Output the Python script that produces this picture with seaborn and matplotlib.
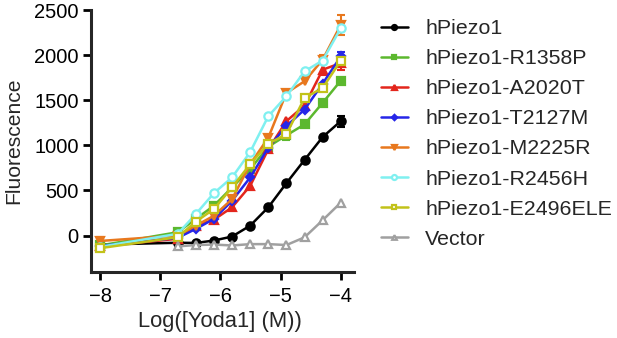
import numpy as np
import pandas as pd
import matplotlib
matplotlib.use("Agg")
import matplotlib.pyplot as plt
import seaborn as sns

sns.set_style("ticks")
plt.rcParams['font.family'] = ['Liberation Sans', 'DejaVu Sans']
plt.rcParams['font.size'] = 14.5

# log10 Yoda1 concentration (2-fold dilutions from 100 uM, plus baseline at -8)
log_conc = [-8, -6.709, -6.408, -6.107, -5.806, -5.505, -5.204, -4.903, -4.602, -4.301, -4.0]

labels = ["hPiezo1", "hPiezo1-R1358P", "hPiezo1-A2020T", "hPiezo1-T2127M",
          "hPiezo1-M2225R", "hPiezo1-R2456H", "hPiezo1-E2496ELE", "Vector"]

hpiezo1 = [-100, -80, -82, -55, -11, 110, 313, 581, 838, 1092, 1268]
r1358p = [-110, 37, 184, 331, 534, 736, 985, 1111, 1232, 1471, 1717]
a2020t = [-120, -36, 110, 176, 313, 551, 956, 1268, 1441, 1838, 1912]
t2127m = [-115, -25, 74, 184, 386, 644, 975, 1213, 1397, 1684, 1985]
m2225r = [-60, 0, 110, 220, 404, 791, 1085, 1581, 1710, 1949, 2335]
r2456h = [-125, 19, 239, 471, 644, 926, 1323, 1544, 1820, 1940, 2298]
e2496ele = [-140, -18, 154, 294, 534, 791, 1019, 1122, 1526, 1636, 1938]
vector = [np.nan, -120, -105, -100, -110, -95, -95, -105, -20, 170, 365]

# a few visible error bars (SEM)
errs = {
    "hPiezo1": [0, 0, 0, 0, 0, 0, 0, 0, 0, 0, 60],
    "hPiezo1-R1358P": [0, 0, 0, 0, 0, 0, 0, 50, 0, 0, 0],
    "hPiezo1-A2020T": [0, 0, 0, 0, 0, 0, 0, 0, 0, 60, 80],
    "hPiezo1-M2225R": [40, 0, 0, 0, 0, 0, 0, 0, 0, 50, 110],
    "hPiezo1-T2127M": [0, 0, 0, 0, 0, 0, 0, 0, 0, 0, 50],
}

colors = ["black", "#5cb82e", "#e3261c", "#2626e8", "#e8781e", "#7ff0f0", "#c2c21a", "#a0a0a0"]
markers = ["o", "s", "^", "D", "v", "o", "s", "^"]
faces = ["black", "#5cb82e", "#e3261c", "#2626e8", "#e8781e", "white", "white", "white"]
sizes = [6, 5.5, 6, 4.5, 6, 6, 6, 5.5]

series = [hpiezo1, r1358p, a2020t, t2127m, m2225r, r2456h, e2496ele, vector]
df = pd.concat([pd.DataFrame({"logc": log_conc, "F": s, "construct": lab})
                for s, lab in zip(series, labels)], ignore_index=True)

fig = plt.figure(figsize=(6.17, 3.38), dpi=100)
ax = fig.add_axes([91 / 617, 66 / 338, 263 / 617, 262 / 338])

for i, lab in enumerate(labels):
    sub = df[df["construct"] == lab].dropna()
    sns.lineplot(data=sub, x="logc", y="F", ax=ax, color=colors[i], linewidth=1.8,
                 marker=markers[i], markersize=sizes[i], markerfacecolor=faces[i],
                 markeredgecolor=colors[i], markeredgewidth=1.6, label=lab, zorder=3 + i)
    if lab in errs:
        e = np.array(errs[lab], dtype=float)
        m = e > 0
        ax.errorbar(np.array(log_conc)[m], np.array(sub["F"])[m],
                    yerr=e[m], fmt="none", ecolor=colors[i], elinewidth=1.5, capsize=3,
                    capthick=1.5, zorder=3 + i)

ax.set_xlim(-8.15, -3.78)
ax.set_ylim(-404, 2500)
ax.set_xticks([-8, -7, -6, -5, -4])
ax.set_yticks([0, 500, 1000, 1500, 2000, 2500])
ax.set_xlabel("Log([Yoda1] (M))", fontsize=15.8)
ax.set_ylabel("Fluorescence", fontsize=15.2)
ax.xaxis.set_label_coords(0.49, -0.15)
ax.yaxis.set_label_coords(-0.258, 0.5)
sns.despine(ax=ax)
for sp in ["left", "bottom"]:
    ax.spines[sp].set_linewidth(2.2)
ax.tick_params(width=2, length=6, labelsize=14.5, colors="black", pad=3)
ax.tick_params(axis="x", pad=5)

handles, labs = ax.get_legend_handles_labels()
ax.get_legend().remove()
fig.legend(handles, labs, loc="upper left", bbox_to_anchor=(381 / 617, 1 - 19 / 338),
           frameon=False, fontsize=15.4, labelspacing=0.52, handlelength=1.26,
           borderaxespad=0, borderpad=0, handletextpad=0.8, markerscale=0.6)

fig.savefig("out.png", dpi=100)
